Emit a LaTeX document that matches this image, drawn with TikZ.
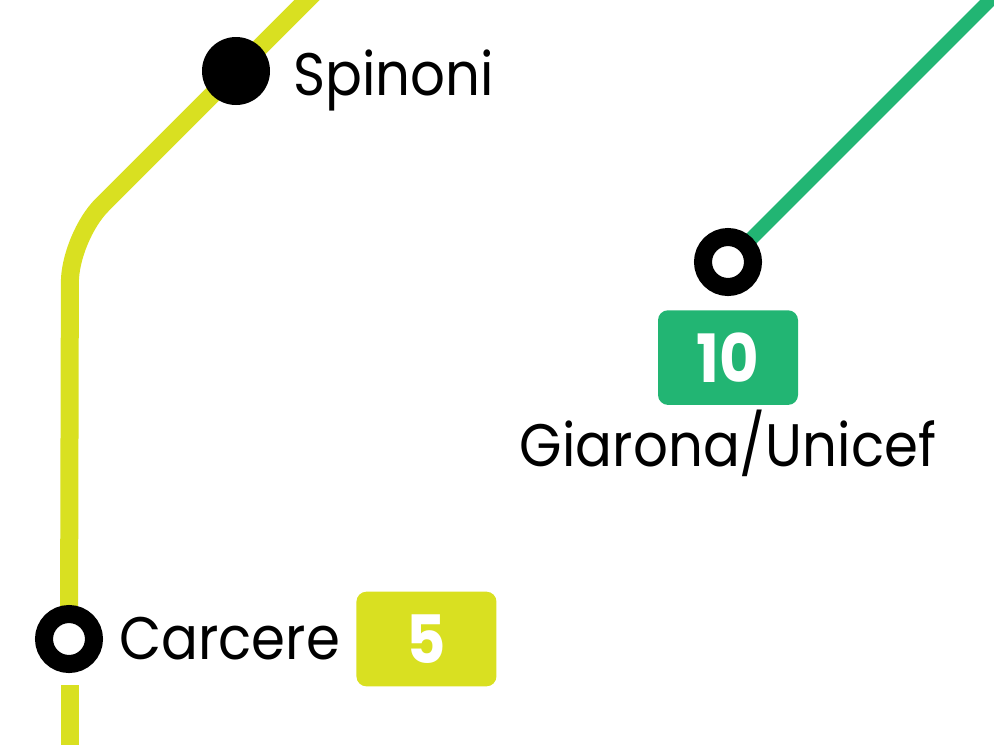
\documentclass[tikz,border=0pt]{standalone}
\usepackage{fontspec}
\setmainfont{Poppins}[FakeStretch=0.91]
\usetikzlibrary{positioning,backgrounds}
\definecolor{lineyellow}{HTML}{D9E021}
\definecolor{linegreen}{HTML}{22B573}

\begin{document}
\begin{tikzpicture}[x=0.75pt, y=-0.75pt,
  track/.style={line width=13.5pt},
  stopdot/.style={circle, fill=black, minimum size=51pt, inner sep=0pt},
  stopring/.style={circle, draw=black, fill=white, line width=13.5pt, minimum size=37.5pt, inner sep=0pt},
  stopname/.style={inner sep=0pt, text height=31pt, text depth=0pt, font=\fontsize{45}{50}\selectfont},
  linebadge/.style={rounded corners=7.5pt, minimum width=105pt, minimum height=71pt, inner sep=0pt,
    text=white, font=\fontsize{50}{54}\selectfont\bfseries}
  ]
  \useasboundingbox (0,0) rectangle (994,744);

  \node[stopdot] (spinoni) at (236,71) {};
  \node[stopring] (carcere) at (69,639) {};
  \node[stopring] (giarona) at (728,262) {};

  \node[stopname, right=17pt of spinoni, yshift=-2.6pt] (spinonilabel) {Spinoni};
  \node[stopname, right=12pt of carcere] (carcerelabel) {Carcere};
  \node[linebadge, fill=lineyellow, right=12pt of carcerelabel] (badgefive) {5};

  \node[linebadge, fill=linegreen, below=10.5pt of giarona] (badgeten) {10};
  \node[stopname, below=15pt of badgeten] (giaronalabel) {Giarona/Unicef};

  \coordinate (ytop) at (317,-10);
  \coordinate (ybend) at (70,237);
  \coordinate (ylow) at (70,685);
  \coordinate (yend) at (70,760);
  \coordinate (gtop) at (1000,-10);

  \begin{scope}[on background layer]
    \draw[track, lineyellow, rounded corners=34pt] (ytop) -- (spinoni.center) -- (ybend) -- (carcere.center);
    \draw[track, lineyellow] (ylow) -- (yend);
    \draw[track, linegreen, line width=10.5pt] (giarona.center) -- (gtop);
  \end{scope}
\end{tikzpicture}
\end{document}
